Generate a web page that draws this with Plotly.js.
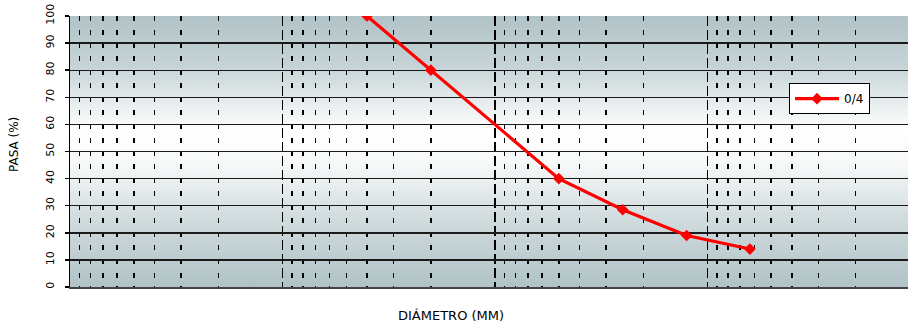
<!DOCTYPE html>
<html>
<head>
<meta charset="utf-8">
<script src="https://cdn.plot.ly/plotly-3.0.1.min.js"></script>
<style>
  html, body { margin: 0; padding: 0; background: #ffffff; }
  #wrap { position: relative; width: 908px; height: 327px; }
  #bg { position: absolute; left: 70px; top: 16px; width: 838px; height: 271px;
        background: linear-gradient(to bottom, #b1c3c7 0%, #c5d3d6 18%, #ffffff 42%, #f6f8f8 55%, #d0dbdd 75%, #b1c3c7 100%); }
  #chart { position: absolute; left: 0; top: 0; width: 908px; height: 327px; }
</style>
</head>
<body>
<div id="wrap">
  <div id="bg"></div>
  <div id="chart"></div>
</div>
<script>
// Sieve size (mm) and percent passing
const diameters = [4, 2, 0.5, 0.25, 0.125, 0.063];
const passing = [100, 80, 40, 28.5, 19, 14];
const seriesName = "0/4";
const yTickVals = [0, 10, 20, 30, 40, 50, 60, 70, 80, 90, 100];
const yTickText = ["0", "10", "20", "30", "40", "50", "60", "70", "80", "90", "100"];
const xTitle = "DIÁMETRO (MM)";
const yTitle = "PASA (%)";

const font = "DejaVu Sans, Arial, sans-serif";

const trace = {
  x: diameters,
  y: passing,
  type: "scatter",
  mode: "lines+markers",
  name: seriesName,
  line: { color: "#ff0000", width: 3.2 },
  marker: { color: "#ff0000", symbol: "diamond", size: 9 }
};

const layout = {
  width: 908,
  height: 327,
  margin: { l: 70, r: 0, t: 16, b: 40 },
  paper_bgcolor: "rgba(0,0,0,0)",
  plot_bgcolor: "rgba(0,0,0,0)",
  showlegend: true,
  legend: {
    x: 0.858, y: 0.752, xanchor: "left", yanchor: "top",
    bgcolor: "#ffffff", bordercolor: "#000000", borderwidth: 1,
    font: { family: font, size: 12, color: "#000" },
    itemwidth: 44,
    tracegroupgap: 0
  },
  xaxis: {
    type: "log",
    range: [2, -1.945],
    dtick: 1,
    showticklabels: false,
    ticks: "",
    showgrid: true,
    gridcolor: "#000000",
    gridwidth: 1.4,
    griddash: "10px,4px",
    minor: { dtick: "D1", showgrid: true, gridcolor: "#000000", gridwidth: 1.5, griddash: "5px,8.5px", ticks: "" },
    showline: true,
    linecolor: "#444444",
    linewidth: 2,
    zeroline: false
  },
  yaxis: {
    range: [0, 100],
    tickvals: yTickVals,
    ticktext: yTickText,
    tickangle: -90,
    ticks: "outside",
    ticklen: 4,
    tickcolor: "#000",
    tickwidth: 1.5,
    ticklabelstandoff: 6,
    tickfont: { family: font, size: 11, color: "#000" },
    showgrid: true,
    gridcolor: "#1a1a1a",
    gridwidth: 1.4,
    showline: true,
    linecolor: "#000000",
    linewidth: 1.5,
    zeroline: false
  },
  annotations: [
    { text: xTitle, xref: "paper", yref: "paper", x: (451 - 70) / 838, y: -0.105,
      xanchor: "center", yanchor: "middle", showarrow: false,
      font: { family: font, size: 13, color: "#000" } },
    { text: yTitle, xref: "paper", yref: "paper", x: (14 - 70) / 838, y: (287 - 145) / 271,
      xanchor: "center", yanchor: "middle", showarrow: false, textangle: -90,
      font: { family: font, size: 12, color: "#000" } }
  ]
};

Plotly.newPlot("chart", [trace], layout, { displayModeBar: false, staticPlot: true });
</script>
</body>
</html>
